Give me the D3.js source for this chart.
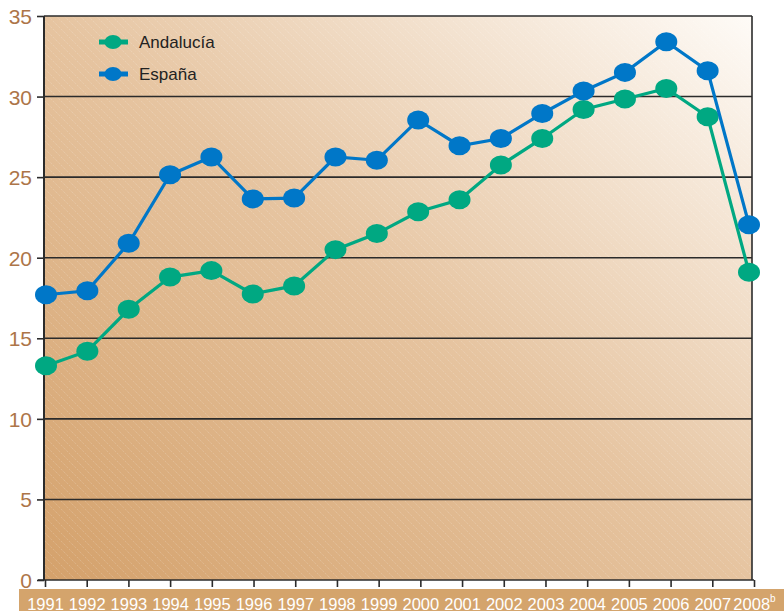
<!DOCTYPE html>
<html><head><meta charset="utf-8">
<script src="https://cdn.jsdelivr.net/npm/d3@7"></script>
<style>body{margin:0;background:#fff}svg{display:block}</style>
</head><body>
<svg id="c" width="784" height="611"></svg>
<script>
const years = ["1991","1992","1993","1994","1995","1996","1997","1998","1999","2000","2001","2002","2003","2004","2005","2006","2007","2008"];
const andalucia = [13.3,14.2,16.8,18.8,19.2,17.75,18.25,20.5,21.5,22.85,23.6,25.75,27.4,29.2,29.85,30.5,28.75,19.1];
const espana = [17.7,17.95,20.9,25.15,26.25,23.65,23.7,26.25,26.05,28.55,26.95,27.4,28.95,30.35,31.5,33.4,31.6,22.05];
const yTicks = [0,5,10,15,20,25,30,35];
const seriesNames = ["Andalucía","España"];
const colors = ["#00a882","#0077c8"];

const svg = d3.select("#c");
const L = 44, R = 752, T = 16, B = 580;
const x = d3.scalePoint().domain(years).range([46, 749]);
const xt = d3.scalePoint().domain(years).range([45, 754]);
const y = d3.scaleLinear().domain([0,35]).range([B,T]);

const defs = svg.append("defs");
const g = defs.append("linearGradient").attr("id","bg").attr("x1","0").attr("y1","1").attr("x2","1").attr("y2","0");
g.append("stop").attr("offset","0").attr("stop-color","#d4a16b");
g.append("stop").attr("offset","0.5").attr("stop-color","#e6c4a0");
g.append("stop").attr("offset","1").attr("stop-color","#fefbf7");
const pat = defs.append("pattern").attr("id","hatch").attr("width",8).attr("height",8)
  .attr("patternUnits","userSpaceOnUse");
pat.append("path").attr("d","M0,0 L8,8 M-4,4 L4,12 M4,-4 L12,4")
  .attr("stroke","#ffffff").attr("stroke-opacity",0.22).attr("stroke-width",0.8).attr("stroke-dasharray","2,1.5");

svg.append("rect").attr("x",L).attr("y",T).attr("width",R-L).attr("height",B-T).attr("fill","url(#bg)");
svg.append("rect").attr("x",L).attr("y",T).attr("width",R-L).attr("height",B-T).attr("fill","url(#hatch)");

// grid
svg.append("g").selectAll("line").data(yTicks.filter(d=>d>0)).join("line")
  .attr("x1",L).attr("x2",R).attr("y1",d=>y(d)).attr("y2",d=>y(d))
  .attr("stroke","#2b2b2b").attr("stroke-width",1.6);
svg.append("line").attr("x1",R).attr("x2",R).attr("y1",T).attr("y2",B).attr("stroke","#2b2b2b").attr("stroke-width",1.6);

// y axis
const ya = svg.append("g").attr("transform",`translate(${L},0)`)
  .call(d3.axisLeft(y).tickValues(yTicks).tickSize(7).tickPadding(5));
ya.select(".domain").attr("stroke","#2b2b2b").attr("stroke-width",2).attr("d",`M0,${B}V${T}`);
ya.selectAll(".tick line").attr("stroke","#2b2b2b").attr("stroke-width",1.6);
ya.selectAll(".tick text").attr("fill","#ad7548").attr("font-size",21)
  .attr("font-family","Liberation Sans, Arial, sans-serif").attr("dy","0.36em");

// x band
svg.append("rect").attr("x",19).attr("y",589).attr("width",765).attr("height",22).attr("fill","#d4a46c");
const xa = svg.append("g").attr("transform",`translate(0,${B})`)
  .call(d3.axisBottom(xt).tickSize(7).tickFormat(d=>d));
xa.select(".domain").attr("stroke","#2b2b2b").attr("stroke-width",1.6).attr("d",`M38,0H754`);
xa.selectAll(".tick line").attr("stroke","#2b2b2b").attr("stroke-width",1.6);
xa.selectAll(".tick text").attr("fill","#ffffff").attr("font-size",16.5)
  .attr("font-family","Liberation Sans, Arial, sans-serif").attr("y",29.5).attr("dy","0");
xa.selectAll(".tick").filter(d=>d==="2008").select("text")
  .append("tspan").attr("font-size",10).attr("dy","-0.8em").text("b");

// lines
const data = [andalucia, espana];
const line = d3.line().x((d,i)=>x(years[i])).y(d=>y(d));
data.forEach((s,k)=>{
  svg.append("path").datum(s).attr("d",line).attr("fill","none")
    .attr("stroke",colors[k]).attr("stroke-width",3.2);
  svg.append("g").selectAll("ellipse").data(s).join("ellipse")
    .attr("cx",(d,i)=>x(years[i])).attr("cy",d=>y(d)).attr("rx",11).attr("ry",9.5)
    .attr("fill",colors[k]);
});

// legend
seriesNames.forEach((n,k)=>{
  const ly = 42 + k*32;
  svg.append("line").attr("x1",99).attr("x2",128).attr("y1",ly).attr("y2",ly)
    .attr("stroke",colors[k]).attr("stroke-width",5);
  svg.append("ellipse").attr("cx",113).attr("cy",ly).attr("rx",8.5).attr("ry",7).attr("fill",colors[k]);
  svg.append("text").attr("x",139).attr("y",ly).attr("dy","0.35em").text(n)
    .attr("font-size",17).attr("fill","#222").attr("font-family","Liberation Sans, Arial, sans-serif");
});
</script>
</body></html>
